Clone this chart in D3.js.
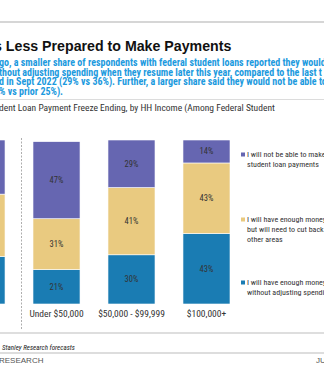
<!DOCTYPE html>
<html>
<head>
<meta charset="utf-8">
<script src="https://cdn.jsdelivr.net/npm/d3@7"></script>
<style>
  body { margin: 0; background: #fff; }
  svg { display: block; }
</style>
</head>
<body>
<svg id="chart" width="324" height="368"></svg>
<script>
// data (first bar is cut off at the left edge)
var categories = ["All", "Under $50,000", "$50,000 - $99,999", "$100,000+"];
var notAble = [33, 47, 29, 14];
var cutBack = [38, 31, 41, 43];
var noAdjust = [29, 21, 30, 43];
var seriesNames = ["I will not be able to make|student loan payments",
                   "I will have enough money|but will need to cut back|other areas",
                   "I will have enough money|without adjusting spending"];
var colours = ["#6666b1", "#e9ca80", "#1a7cb3"];

var narrow = "'Liberation Sans Narrow', 'Arial Narrow', 'Roboto Condensed', Roboto, sans-serif";
var wide = "'Liberation Sans', Arial, Helvetica, sans-serif";

var svg = d3.select("#chart");

//Header rules and text
svg.append("line")
  .attr("x1", 0).attr("x2", 324).attr("y1", 22).attr("y2", 22)
  .attr("stroke", "#c8c8c8").attr("stroke-width", 1.5);
svg.append("text")
  .attr("x", -6).attr("y", 50.5)
  .style("font-family", wide)
  .style("font-weight", "bold")
  .style("font-size", "14.2px")
  .attr("fill", "#111")
  .text("s Less Prepared to Make Payments");

var blurb = [
  "go, a smaller share of respondents with federal student loans reported they would",
  "thout adjusting spending when they resume later this year, compared to the last t",
  "d in Sept 2022 (29% vs 36%). Further, a larger share said they would not be able to",
  "% vs prior 25%)."
];
svg.append("g").selectAll("text")
  .data(blurb)
  .enter().append("text")
  .attr("x", -1)
  .attr("y", function(d, i) { return 66 + i * 9.7; })
  .style("font-family", narrow)
  .style("font-weight", "bold")
  .style("font-size", "10px")
  .attr("fill", "#1c9ade")
  .text(function(d) { return d; });

svg.append("line")
  .attr("x1", 0).attr("x2", 324).attr("y1", 99.5).attr("y2", 99.5)
  .attr("stroke", "#dcdcdc").attr("stroke-width", 1);
svg.append("text")
  .attr("x", -1).attr("y", 111)
  .style("font-family", narrow)
  .style("font-size", "9.5px")
  .attr("fill", "#333")
  .text("dent Loan Payment Freeze Ending, by HH Income (Among Federal Student");

//Scales
var x = d3.scaleBand()
  .domain(categories)
  .range([-42, 230])
  .paddingInner(0.373)
  .paddingOuter(0);
var y = d3.scaleLinear()
  .domain([0, 100])
  .range([304, 140]);

var table = categories.map(function(c, i) {
  return { cat: c, s0: notAble[i], s1: cutBack[i], s2: noAdjust[i] };
});
// stack from the bottom: no-adjust, cut-back, not-able
var stack = d3.stack().keys(["s2", "s1", "s0"])(table);
var colourOf = { s0: colours[0], s1: colours[1], s2: colours[2] };

//Bars
var layers = svg.append("g").selectAll("g")
  .data(stack)
  .enter().append("g")
  .attr("fill", function(d) { return colourOf[d.key]; });
layers.selectAll("rect")
  .data(function(d) { return d; })
  .enter().append("rect")
  .attr("x", function(d) { return x(d.data.cat); })
  .attr("width", x.bandwidth())
  .attr("y", function(d) { return y(d[1]); })
  .attr("height", function(d) { return y(d[0]) - y(d[1]); })
  .attr("stroke", "#fff")
  .attr("stroke-width", 0.6);
layers.selectAll("text")
  .data(function(d) { return d; })
  .enter().append("text")
  .attr("x", function(d) { return x(d.data.cat) + x.bandwidth() / 2; })
  .attr("y", function(d) { return (y(d[0]) + y(d[1])) / 2 + 3; })
  .attr("text-anchor", "middle")
  .style("font-family", narrow)
  .style("font-size", "8.5px")
  .attr("fill", "#333")
  .text(function(d) { return (d[1] - d[0]) + "%"; });

//Dashed divider after the first bar
svg.append("line")
  .attr("x1", 21.5).attr("x2", 21.5).attr("y1", 138).attr("y2", 330)
  .attr("stroke", "#999").attr("stroke-width", 0.8)
  .attr("stroke-dasharray", "2,1.5");

//Category labels
svg.append("g").selectAll("text")
  .data(categories)
  .enter().append("text")
  .attr("x", function(d) { return x(d) + x.bandwidth() / 2; })
  .attr("y", 317)
  .attr("text-anchor", "middle")
  .style("font-family", narrow)
  .style("font-size", "9.5px")
  .attr("fill", "#333")
  .text(function(d) { return d; });

//Legend
var legendY = [157, 222, 285];
var legend = svg.append("g").selectAll("g")
  .data(seriesNames)
  .enter().append("g")
  .attr("transform", function(d, i) { return "translate(241," + legendY[i] + ")"; });
legend.append("rect")
  .attr("x", 0).attr("y", -4.5).attr("width", 4).attr("height", 4)
  .attr("fill", function(d, i) { return colours[i]; });
legend.append("text")
  .style("font-family", narrow)
  .style("font-size", "8px")
  .attr("fill", "#333")
  .selectAll("tspan")
  .data(function(d) { return d.split("|"); })
  .enter().append("tspan")
  .attr("x", 6)
  .attr("y", function(d, i) { return i * 10; })
  .text(function(d) { return d; });

//Footer
svg.append("line")
  .attr("x1", 0).attr("x2", 324).attr("y1", 333).attr("y2", 333)
  .attr("stroke", "#dedede").attr("stroke-width", 2);
svg.append("text")
  .attr("x", 2).attr("y", 350)
  .style("font-family", narrow)
  .style("font-style", "italic")
  .style("font-size", "7px")
  .attr("fill", "#222")
  .text("Stanley Research forecasts");
svg.append("line")
  .attr("x1", 0).attr("x2", 324).attr("y1", 353).attr("y2", 353)
  .attr("stroke", "#bbb").attr("stroke-width", 1);
svg.append("text")
  .attr("x", -1).attr("y", 363)
  .style("font-family", wide)
  .style("font-size", "8px")
  .attr("fill", "#555")
  .text("RESEARCH");
svg.append("text")
  .attr("x", 316).attr("y", 363)
  .style("font-family", wide)
  .style("font-size", "8px")
  .attr("fill", "#555")
  .text("JU");
</script>
</body>
</html>
